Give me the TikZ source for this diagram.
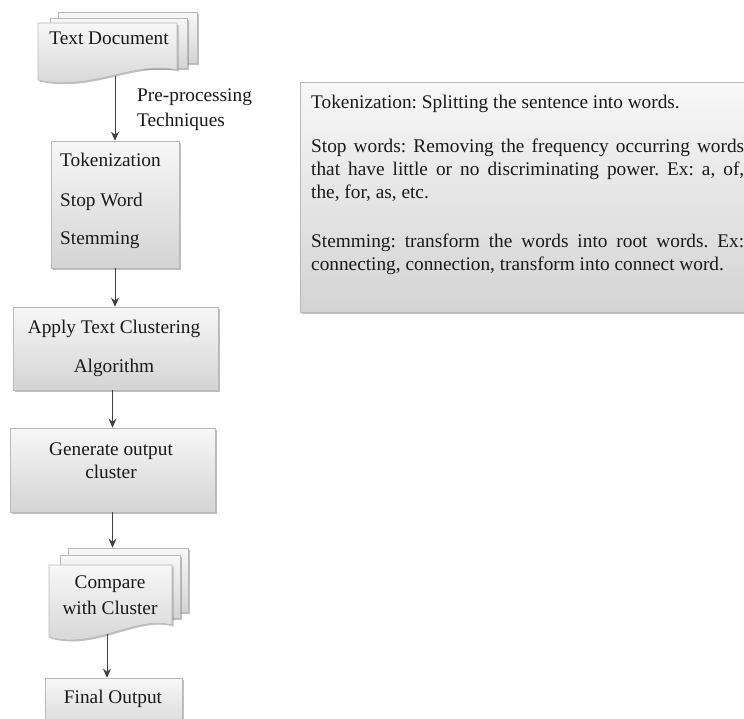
\documentclass[tikz,border=0pt]{standalone}
\usepackage{fontspec}
\setmainfont{Liberation Serif}
\usetikzlibrary{arrows.meta,shadows}
\frenchspacing
\begin{document}
\begin{tikzpicture}[x=1pt,y=-1pt,
  txt/.style={inner sep=0pt, font=\fontsize{19.3}{23}\selectfont, text=black!90},
  boxfill/.style={draw=gray!55, line width=0.6pt, top color=gray!6, bottom color=gray!34},
  shad/.style={drop shadow={shadow xshift=1.5pt, shadow yshift=-1.5pt, opacity=0.5}},
  proc/.style={boxfill, shad, inner sep=0pt},
  ghost/.style={inner sep=0pt, draw=none, fill=none},
  arr/.style={draw=black!75, line width=1pt, -{Stealth[length=9pt,width=8pt]}},
]
\useasboundingbox[fill=white] (0,0) rectangle (744,718);

% ---------- Text Document (multi-document) ----------
\node[proc, minimum width=139, minimum height=51] (docb) at (127.5,37.5) {};
\node[proc, minimum width=137, minimum height=50] (docm) at (118.5,43) {};
\path[boxfill, shad] (38,23) -- (177,23) -- (177,70)
   .. controls (135,60) and (90,92) .. (38,80) -- cycle;
\node[ghost, minimum width=139, minimum height=53] (doc) at (115,49.5) {};
\node[txt, anchor=base] (doclbl) at (109,44) {Text Document};

% label
\node[txt, anchor=base west] (pre1) at (137,101) {Pre-processing};
\node[txt, anchor=base west] (pre2) at (137,126) {Techniques};

% ---------- Tokenization box ----------
\node[proc, minimum width=128, minimum height=127] (tok) at (115,204.5) {};
\node[txt, anchor=base west] (tok1) at (60,166) {Tokenization};
\node[txt, anchor=base west] (tok2) at (60,206) {Stop Word};
\node[txt, anchor=base west] (tok3) at (60,244) {Stemming};

% ---------- Apply box ----------
\node[proc, minimum width=205, minimum height=83] (app) at (115.5,348.5) {};
\node[txt, anchor=base] (app1) at (114,333) {Apply Text Clustering};
\node[txt, anchor=base] (app2) at (114,372) {Algorithm};

% ---------- Generate box ----------
\node[proc, minimum width=205, minimum height=84] (gen) at (112.5,470) {};
\node[txt, anchor=base] (gen1) at (111,455) {Generate output};
\node[txt, anchor=base] (gen2) at (111,478) {cluster};

% ---------- Compare (multi-document) ----------
\node[proc, minimum width=120, minimum height=64] (cmpb) at (128,580) {};
\node[proc, minimum width=120, minimum height=63] (cmpm) at (120,586.5) {};
\path[boxfill, shad] (49,565) -- (172,565) -- (172,625)
   .. controls (135,615) and (95,650) .. (49,637) -- cycle;
\node[ghost, minimum width=120, minimum height=69] (cmp) at (107,599.5) {};
\node[txt, anchor=base] (cmp1) at (110,588) {Compare};
\node[txt, anchor=base] (cmp2) at (110,614) {with Cluster};

% ---------- Final Output ----------
\node[proc, minimum width=137, minimum height=60] (fin) at (113.5,708) {};
\node[txt, anchor=base] (fin1) at (113,703) {Final Output};

% ---------- Right description box ----------
\node[proc, minimum width=460, minimum height=230] (desc) at (530,197) {};
\node[txt, anchor=base west] (d1) at (311,108)
  {Tokenization: Splitting the sentence into words.};
\node[txt, anchor=north west, text width=433pt, align=justify] (d2) at (311,139)
  {Stop words: Removing the frequency occurring words\linebreak
   that have little or no discriminating power. Ex: a, of,\linebreak
   the, for, as, etc.};
\node[txt, anchor=north west, text width=433pt, align=justify] (d3) at (311,234)
  {Stemming: transform the words into root words. Ex:\linebreak
   connecting, connection, transform into connect word.};

% ---------- Connectors ----------
\draw[arr] (doc.south) -- (tok.north);
\draw[arr] (tok.south) -- (tok.south |- app.north);
\draw[arr] (gen.north |- app.south) -- (gen.north);
\draw[arr] (gen.south) -- (gen.south |- cmpb.north);
\draw[arr] (cmp.south) -- (cmp.south |- fin.north);
\end{tikzpicture}
\end{document}
